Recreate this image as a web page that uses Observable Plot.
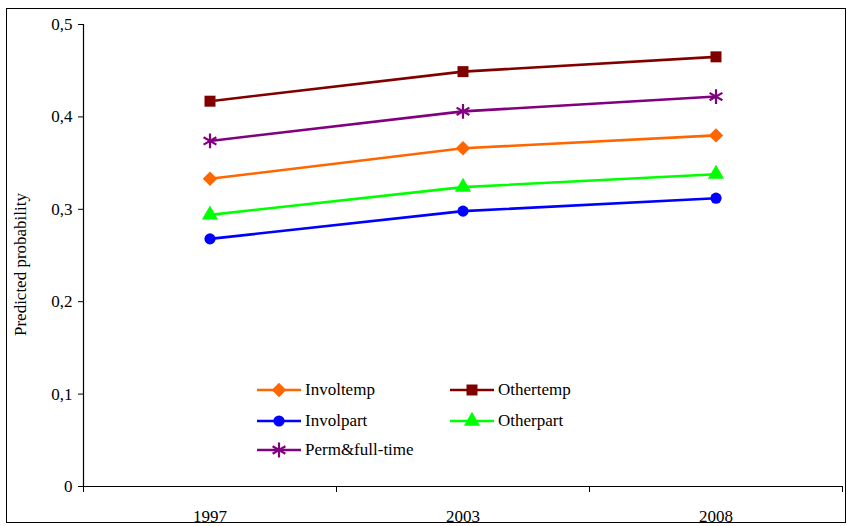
<!DOCTYPE html>
<html>
<head>
<meta charset="utf-8">
<script src="https://cdn.jsdelivr.net/npm/d3@7"></script>
<script src="https://cdn.jsdelivr.net/npm/@observablehq/plot@0.6"></script>
<style>
  html, body { margin: 0; padding: 0; background: #fff; }
  #chart { position: relative; width: 847px; height: 526px; font-family: "Liberation Serif", "Times New Roman", Times, "DejaVu Serif", serif; }
  #chart svg text { font-family: "Liberation Serif", "Times New Roman", Times, "DejaVu Serif", serif; }
  #border { position: absolute; left: 6px; top: 8px; width: 838px; height: 513px; border: 1px solid #000; pointer-events: none; }
  #legend { position: absolute; left: 257px; top: 378px; font-size: 17px; color: #000; }
  .item { position: absolute; display: flex; align-items: center; white-space: nowrap; }
  .item svg { margin-right: 4px; overflow: visible; }
</style>
</head>
<body>
<div id="chart"><div id="border"></div><div id="legend"></div></div>
<script>
const years = ["1997", "2003", "2008"];
const seriesNames = ["Involtemp", "Othertemp", "Involpart", "Otherpart", "Perm&full-time"];
const involtemp = [0.333, 0.366, 0.380];
const othertemp = [0.417, 0.449, 0.465];
const involpart = [0.268, 0.298, 0.312];
const otherpart = [0.294, 0.324, 0.338];
const permFull = [0.374, 0.406, 0.422];
const colors = ["#FF6600", "#800000", "#0000FF", "#00FF00", "#800080"];
const symbols = ["diamond2", "square", "circle", "triangle", "asterisk"];
const yTicks = [0, 0.1, 0.2, 0.3, 0.4, 0.5];

const valuesBySeries = [involtemp, othertemp, involpart, otherpart, permFull];
const data = [];
seriesNames.forEach((s, i) => valuesBySeries[i].forEach((v, j) => data.push({series: s, idx: j + 0.5, year: years[j], value: v})));
const sizes = {"diamond2": 6.5, "square": 6.2, "circle": 5.6, "triangle": 6, "asterisk": 7};

const fmt = d => d === 0 ? "0" : d3.format(".1f")(d).replace(".", ",");
const serif = '"Liberation Serif", "Times New Roman", Times, "DejaVu Serif", serif';

const plot = Plot.plot({
  width: 847,
  height: 526,
  marginLeft: 83,
  marginRight: 5,
  marginTop: 24,
  marginBottom: 40,
  style: {fontFamily: serif, fontSize: "17px", color: "#000", background: "transparent"},
  x: {type: "linear", domain: [0, years.length]},
  y: {domain: [0, 0.5]},
  color: {domain: seriesNames, range: colors},
  symbol: {domain: seriesNames, range: symbols},
  marks: [
    Plot.axisY({ticks: yTicks, tickSize: 5, tickPadding: 6, tickFormat: fmt, label: null}),
    Plot.axisX({ticks: d3.range(years.length + 1), tickSize: 6, tickFormat: () => "", label: null}),
    Plot.axisX({ticks: years.map((y, i) => i + 0.5), tickSize: 0, tickPadding: 23, tickFormat: d => years[Math.floor(d)], label: null}),
    Plot.ruleX([0], {stroke: "#000", strokeWidth: 1.2}),
    Plot.ruleY([0], {stroke: "#000", strokeWidth: 1.2}),
    Plot.line(data, {x: "idx", y: "value", z: "series", stroke: "series", strokeWidth: 2.6}),
    ...seriesNames.map((s, i) => Plot.dot(data.filter(d => d.series === s), {
      x: "idx", y: "value", symbol: () => s, r: sizes[symbols[i]],
      fill: symbols[i] === "asterisk" ? "none" : colors[i],
      stroke: colors[i], strokeWidth: symbols[i] === "asterisk" ? 2.2 : 0
    })),
    Plot.text(["Predicted probability"], {frameAnchor: "left", textAnchor: "middle", dx: -63, dy: 9, rotate: -90, fontSize: 17, fill: "#000"})
  ]
});
document.getElementById("chart").prepend(plot);

// legend
const legend = document.getElementById("legend");
const positions = [[0, 0], [193, 0], [0, 31], [193, 31], [0, 60]];
seriesNames.forEach((s, i) => {
  const item = document.createElement("div");
  item.className = "item";
  item.style.left = positions[i][0] + "px";
  item.style.top = positions[i][1] + "px";
  const sym = d3.symbol(d3["symbol" + {diamond2: "Diamond2", square: "Square", circle: "Circle", triangle: "Triangle", asterisk: "Asterisk"}[symbols[i]]], Math.PI * sizes[symbols[i]] ** 2)();
  const isStar = symbols[i] === "asterisk";
  item.innerHTML = `<svg width="44" height="24"><line x1="0" x2="44" y1="12" y2="12" stroke="${colors[i]}" stroke-width="2.6"/>` +
    `<path transform="translate(22,12)" d="${sym}" fill="${isStar ? "none" : colors[i]}" stroke="${colors[i]}" stroke-width="${isStar ? 2.2 : 0}"/></svg>` +
    `<span>${s.replace("&", "&amp;")}</span>`;
  legend.appendChild(item);
});
</script>
</body>
</html>
